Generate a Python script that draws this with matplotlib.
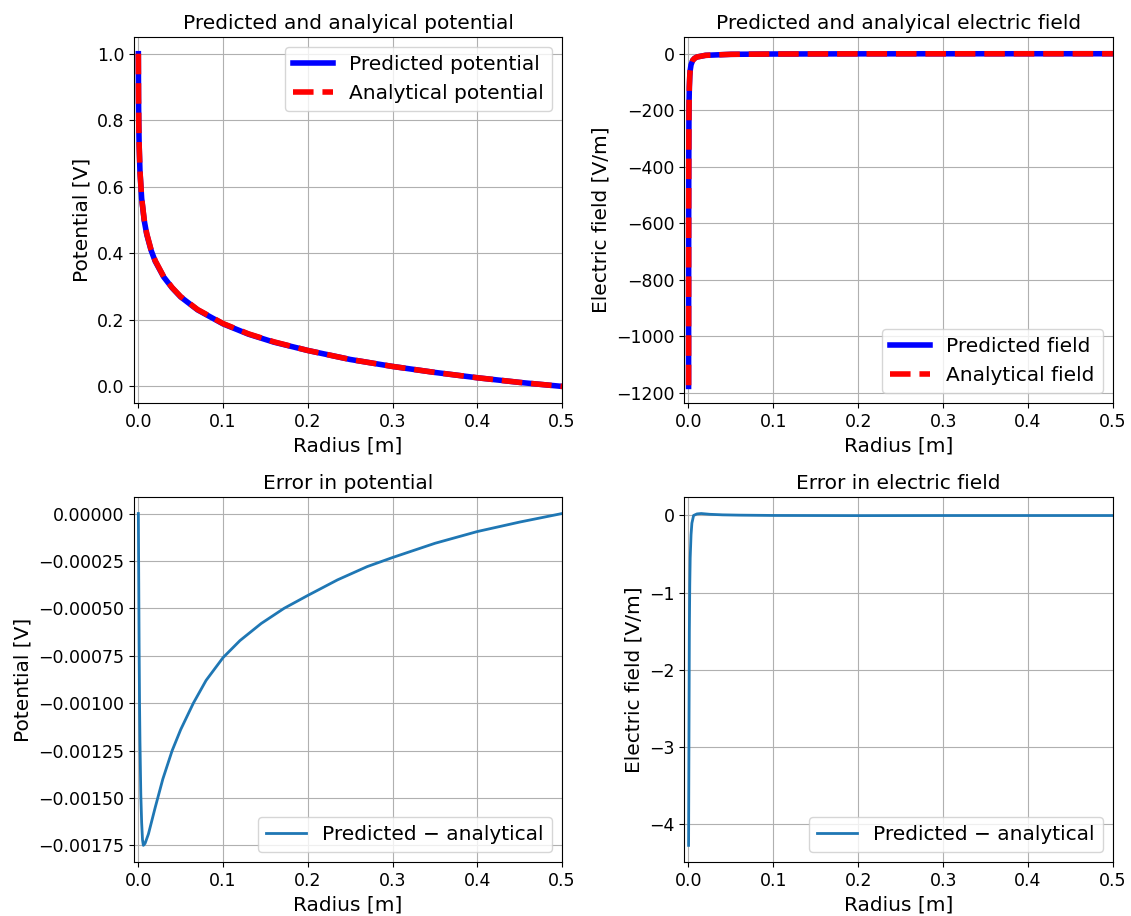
import matplotlib
matplotlib.use("Agg")
import matplotlib.pyplot as plt


# -----------------------------
# DATA
# -----------------------------
radius_pot = [0.0001, 0.0003, 0.0006, 0.001, 0.002, 0.004, 0.007, 0.01, 0.015,
              0.02, 0.03, 0.04, 0.05, 0.07, 0.1, 0.13, 0.16, 0.2, 0.25, 0.3,
              0.35, 0.4, 0.45, 0.5]
analytical_pot = [1.0, 0.871, 0.790, 0.730, 0.648, 0.567, 0.501, 0.459, 0.412,
                  0.378, 0.330, 0.297, 0.270, 0.231, 0.189, 0.158, 0.134, 0.108,
                  0.081, 0.060, 0.042, 0.026, 0.012, 0.0]
predicted_pot = [1.0, 0.870, 0.789, 0.729, 0.647, 0.565, 0.499, 0.457, 0.410,
                 0.376, 0.329, 0.296, 0.269, 0.230, 0.188, 0.157, 0.133, 0.108,
                 0.081, 0.060, 0.042, 0.026, 0.012, 0.0]

radius_field = [0.0001, 0.0002, 0.0003, 0.0005, 0.0007, 0.001, 0.0015, 0.002,
                0.003, 0.005, 0.007, 0.01, 0.02, 0.05, 0.1, 0.2, 0.3, 0.4, 0.5]
analytical_field = [-1174, -587, -391, -235, -168, -117, -78, -59, -39, -23.5,
                    -16.8, -11.7, -5.9, -2.3, -1.2, -0.59, -0.39, -0.29, -0.23]
predicted_field = [-1178, -589, -392, -235, -168, -118, -79, -59, -39, -23.5,
                   -16.8, -11.7, -5.9, -2.3, -1.2, -0.59, -0.39, -0.29, -0.23]

radius_err_pot = [0.0001, 0.0005, 0.001, 0.0015, 0.002, 0.003, 0.004, 0.005,
                  0.006, 0.008, 0.012, 0.02, 0.029, 0.04, 0.05, 0.065, 0.08,
                  0.1, 0.12, 0.145, 0.172, 0.2, 0.235, 0.27, 0.3, 0.35, 0.4,
                  0.45, 0.5]
err_pot = [0.0, -0.0003, -0.0007, -0.001, -0.0012, -0.00148, -0.00163,
           -0.00172, -0.00175, -0.00174, -0.00169, -0.00155, -0.0014,
           -0.00125, -0.00114, -0.001, -0.00088, -0.00076, -0.00067, -0.00058,
           -0.0005, -0.000432, -0.00035, -0.00028, -0.000232, -0.000157,
           -0.000095, -0.000045, 0.0]

radius_err_field = [0.0001, 0.0005, 0.001, 0.0015, 0.002, 0.003, 0.004, 0.006,
                    0.01, 0.015, 0.025, 0.04, 0.06, 0.1, 0.2, 0.3, 0.4, 0.5]
err_field = [-4.28, -3.0, -1.5, -0.9, -0.55, -0.25, -0.1, 0.0, 0.02, 0.025,
             0.015, 0.008, 0.004, 0.0, -0.002, -0.001, -0.001, -0.001]

R_MIN, R_MAX = -0.005, 0.5


# -----------------------------
# FIGURE
# -----------------------------
fig = plt.figure(figsize=(11.31, 9.16), dpi=100)

ax1 = fig.add_axes([0.1185, 0.560, 0.3785, 0.3995])
ax2 = fig.add_axes([0.605, 0.560, 0.379, 0.3995])
ax3 = fig.add_axes([0.1185, 0.059, 0.3785, 0.3985])
ax4 = fig.add_axes([0.605, 0.059, 0.379, 0.3985])

label_fs = 14.5
tick_fs = 12.5

# top left: potential
ax1.plot(radius_pot, predicted_pot, color="blue", lw=4, label="Predicted potential")
ax1.plot(radius_pot, analytical_pot, color="red", lw=4, ls="--", label="Analytical potential")
ax1.set_title("Predicted and analyical potential", fontsize=label_fs)
ax1.set_ylabel("Potential [V]", fontsize=label_fs)
ax1.legend(loc="upper right", fontsize=label_fs)

# top right: electric field
ax2.plot(radius_field, predicted_field, color="blue", lw=4, label="Predicted field")
ax2.plot(radius_field, analytical_field, color="red", lw=4, ls="--", label="Analytical field")
ax2.set_title("Predicted and analyical electric field", fontsize=label_fs)
ax2.set_ylabel("Electric field [V/m]", fontsize=label_fs)
ax2.legend(loc="lower right", fontsize=label_fs)

# bottom left: error in potential
ax3.plot(radius_err_pot, err_pot, lw=2, label="Predicted \u2212 analytical")
ax3.set_title("Error in potential", fontsize=label_fs)
ax3.set_ylabel("Potential [V]", fontsize=label_fs)
ax3.legend(loc="lower right", fontsize=label_fs)

# bottom right: error in field
ax4.plot(radius_err_field, err_field, lw=2, label="Predicted \u2212 analytical")
ax4.set_title("Error in electric field", fontsize=label_fs)
ax4.set_ylabel("Electric field [V/m]", fontsize=label_fs)
ax4.legend(loc="lower right", fontsize=label_fs)

for ax in (ax1, ax2, ax3, ax4):
    ax.set_xlim(R_MIN, R_MAX)
    ax.set_xlabel("Radius [m]", fontsize=label_fs)
    ax.tick_params(labelsize=tick_fs)
    ax.grid(True)

fig.savefig("out.png", dpi=100)
